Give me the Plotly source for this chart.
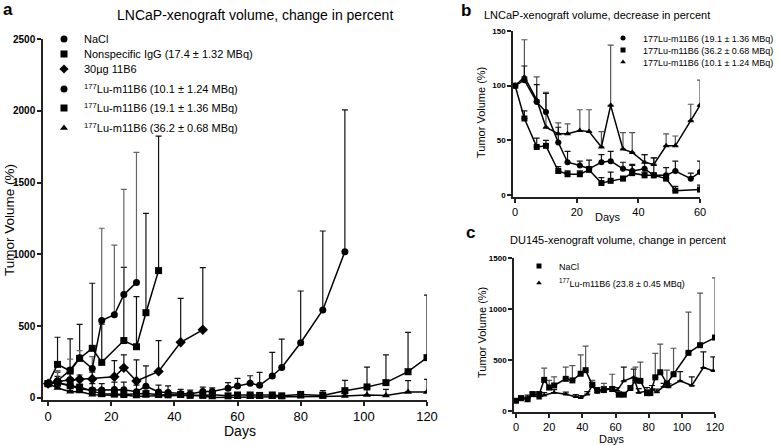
import plotly.graph_objects as go

FONT = "Liberation Sans, Arial, sans-serif"

# ---------------- Panel a: LNCaP change in percent ----------------
a_nacl_days = [0, 3, 7, 10, 14, 17, 21, 24, 28]
a_nacl = [100, 120, 195, 280, 205, 540, 580, 720, 805]
a_nacl_top = [100, 190, 270, 330, 288, 1182, 1065, 1453, 1711]

a_igg_days = [0, 3, 7, 10, 14, 17, 24, 28, 31, 35]
a_igg = [100, 234, 188, 276, 346, 248, 400, 357, 594, 887]
a_igg_top = [100, 423, 411, 513, 799, 515, 910, 706, 1286, 1824]

a_ab_days = [0, 3, 7, 10, 14, 21, 24, 28, 35, 42, 49]
a_ab = [100, 115, 125, 130, 132, 148, 210, 118, 185, 388, 475]
a_ab_top = [100, 150, 170, 160, 180, 260, 300, 265, 399, 694, 908]

a_lu10_days = [0, 3, 7, 10, 14, 17, 21, 24, 28, 31, 35, 38, 42, 45, 49, 52, 57, 60,
               64, 67, 71, 74, 80, 87, 94]
a_lu10 = [100, 108, 87, 62, 56, 56, 59, 58, 44, 82, 42, 39, 30, 28, 45, 45, 68, 84,
          102, 88, 153, 212, 385, 613, 1019]
a_lu10_top = [100, 180, 140, 120, 100, 100, 110, 110, 90, 223, 90, 85, 60, 55, 75, 70, 107, 137,
              155, 179, 318, 410, 745, 1163, 2006]

a_lu19_days = [0, 3, 7, 10, 14, 17, 21, 24, 28, 31, 35, 38, 42, 45, 49, 52, 57, 60,
               64, 67, 71, 74, 80, 87, 94, 101, 107, 114, 120]
a_lu19 = [100, 105, 85, 76, 48, 30, 27, 24, 30, 31, 24, 22, 24, 18, 18, 22, 15, 21,
          21, 18, 21, 15, 25, 18, 51, 77, 107, 183, 281]
a_lu19_top = [100, 118, 104, 93, 64, 52, 31, 32, 37, 40, 30, 28, 37, 34, 25, 31, 20, 31,
              30, 28, 30, 25, 40, 51, 123, 215, 300, 457, 717]

a_lu36_days = [0, 3, 7, 10, 14, 17, 21, 24, 28, 31, 35, 38, 42, 45, 49, 52, 60,
               64, 67, 71, 74, 80, 87, 94, 101, 107, 114, 120]
a_lu36 = [100, 70, 44, 45, 22, 19, 19, 23, 11, 13, 15, 20, 18, 18, 15, 4, 5,
          5, 5, 5, 5, 8, 10, 14, 20, 18, 42, 42]
a_lu36_top = [100, 77, 52, 50, 26, 22, 22, 26, 16, 21, 17, 23, 21, 20, 19, 8, 9,
              8, 8, 8, 8, 12, 40, 30, 70, 60, 121, 130]

a_names = ["NaCl", "Nonspecific IgG (17.4 ± 1.32 MBq)", "30µg 11B6",
           "<sup>177</sup>Lu-m11B6 (10.1 ± 1.24 MBq)",
           "<sup>177</sup>Lu-m11B6 (19.1 ± 1.36 MBq)",
           "<sup>177</sup>Lu-m11B6 (36.2 ± 0.68 MBq)"]

# ---------------- Panel b: LNCaP decrease in percent ----------------
b_days = [0, 3, 7, 10, 14, 17, 21, 24, 28, 31, 35, 38, 42, 45, 49, 52, 57, 60]
b_lu19 = [100, 105, 85, 76, 48, 30, 27, 24, 30, 31, 24, 22, 24, 18, 18, 22, 15, 21]
b_lu19_top = [100, 118, 101, 93, 62, 40, 31, 32, 37, 40, 30, 28, 37, 34, 25, 31, 20, 31]

b_lu36_days = [0, 3, 7, 10, 14, 17, 21, 24, 28, 31, 35, 38, 42, 45, 49, 52, 60]
b_lu36 = [100, 70, 44, 45, 22, 19, 19, 23, 11, 13, 15, 20, 18, 18, 15, 4, 5]
b_lu36_top = [100, 77, 52, 50, 26, 22, 22, 26, 16, 21, 17, 27, 21, 20, 19, 8, 9]

b_lu10 = [100, 108, 87, 62, 56, 56, 59, 58, 44, 82, 42, 39, 30, 28, 45, 45, 68, 82]
b_lu10_top = [100, 142, 108, 94, 66, 65, 78, 78, 58, 137, 57, 57, 37, 34, 56, 54, 83, 105]

b_names = ["177Lu-m11B6 (19.1 ± 1.36 MBq)", "177Lu-m11B6 (36.2 ± 0.68 MBq)",
           "177Lu-m11B6 (10.1 ± 1.24 MBq)"]

# ---------------- Panel c: DU145 change in percent ----------------
c_nacl_days = [0, 3, 7, 10, 14, 17, 20, 23, 30, 34, 39, 42, 46, 49, 53, 58, 62, 65, 69, 72,
               75, 79, 81, 84, 87, 91, 95, 104, 111, 120]
c_nacl = [100, 125, 115, 165, 165, 305, 230, 250, 315, 300, 365, 400, 255, 205, 205, 215, 160, 160,
          225, 300, 295, 175, 175, 330, 380, 270, 360, 570, 645, 720]
c_nacl_top = [100, 150, 135, 185, 190, 420, 300, 335, 430, 445, 550, 635, 300, 230, 270, 360, 190, 180,
              250, 430, 480, 210, 200, 565, 655, 400, 615, 970, 1155, 1305]

c_lu_days = [0, 3, 7, 10, 14, 17, 23, 30, 36, 39, 43, 46, 49, 53, 58, 61, 65, 71, 74, 79,
             82, 85, 89, 92, 99, 106, 113, 119]
c_lu = [100, 125, 130, 160, 125, 155, 180, 165, 140, 130, 165, 250, 180, 215, 220, 200, 295, 330,
        180, 195, 215, 185, 240, 235, 295, 250, 425, 395]
c_lu_top = [100, 145, 155, 185, 160, 180, 210, 185, 160, 150, 190, 280, 210, 240, 240, 230, 430, 410,
            220, 230, 250, 215, 270, 265, 385, 335, 580, 530]

c_names = ["NaCl", "<sup>177</sup>Lu-m11B6 (23.8 ± 0.45 MBq)"]

W, H = 779, 446


def px(x):
    return x / W


def py(y):
    return 1 - y / H


fig = go.Figure()


def add_series(days, vals, tops, symbol, size, xa, ya, ecolor="#111111"):
    err = [t - v for t, v in zip(tops, vals)]
    fig.add_trace(go.Scatter(
        x=days, y=vals, mode="lines+markers", xaxis=xa, yaxis=ya, showlegend=False,
        line=dict(color="black", width=1.5),
        marker=dict(symbol=symbol, size=size, color="black"),
        error_y=dict(type="data", symmetric=False, array=err, arrayminus=[0] * len(err),
                     color=ecolor, thickness=1.2, width=3),
        hoverinfo="skip"))


legends = {}
leg_count = [0]


def add_legend_item(name, symbol, size, lx, ly, fsize, xa, ya):
    leg_count[0] += 1
    key = "legend" if leg_count[0] == 1 else "legend%d" % leg_count[0]
    fig.add_trace(go.Scatter(
        x=[None], y=[None], mode="markers", name=name, legend=key, xaxis=xa, yaxis=ya,
        marker=dict(symbol=symbol, size=size, color="black"), showlegend=True))
    legends[key] = dict(x=px(lx), y=py(ly), xanchor="left", yanchor="middle",
                        bgcolor="rgba(0,0,0,0)", borderwidth=0,
                        font=dict(size=fsize, family=FONT, color="black"), itemwidth=30)


# panel a
add_series(a_lu36_days, a_lu36, a_lu36_top, "triangle-up", 7, "x", "y")
add_series(a_lu19_days, a_lu19, a_lu19_top, "square", 7, "x", "y")
add_series(a_lu10_days, a_lu10, a_lu10_top, "circle", 7, "x", "y")
add_series(a_ab_days, a_ab, a_ab_top, "diamond", 8, "x", "y")
add_series(a_igg_days, a_igg, a_igg_top, "square", 7, "x", "y")
add_series(a_nacl_days, a_nacl, a_nacl_top, "circle", 7, "x", "y", ecolor="#666666")
a_rows = [39, 54, 69, 89, 108, 128]
for nm, sym, ry in zip(a_names, ["circle", "square", "diamond", "circle", "square", "triangle-up"], a_rows):
    add_legend_item(nm, sym, 7, 44, ry, 11, "x", "y")

# panel b
add_series(b_days, b_lu10, b_lu10_top, "triangle-up", 6, "x2", "y2", ecolor="#555555")
add_series(b_lu36_days, b_lu36, b_lu36_top, "square", 6, "x2", "y2")
add_series(b_days, b_lu19, b_lu19_top, "circle", 6, "x2", "y2")
b_rows = [38, 50, 62]
for nm, sym, ry in zip(b_names, ["circle", "square", "triangle-up"], b_rows):
    add_legend_item(nm, sym, 5, 603, ry, 9, "x2", "y2")

# panel c
add_series(c_lu_days, c_lu, c_lu_top, "triangle-up", 5, "x3", "y3")
add_series(c_nacl_days, c_nacl, c_nacl_top, "square", 6, "x3", "y3", ecolor="#555555")
c_rows = [266, 283]
for nm, sym, ry in zip(c_names, ["square", "triangle-up"], c_rows):
    add_legend_item(nm, sym, 5, 519, ry, 9, "x3", "y3")

axis_common = dict(showline=True, linecolor="#222222", linewidth=1.5, ticks="outside",
                   ticklen=4, tickwidth=1.5, tickcolor="#222222", showgrid=False, zeroline=False,
                   automargin=False)

fig.update_layout(
    width=W, height=H, margin=dict(l=0, r=0, t=0, b=0, autoexpand=False),
    paper_bgcolor="white", plot_bgcolor="white",
    font=dict(family=FONT, color="black"),
    xaxis=dict(domain=[px(43), px(427)], range=[-1.6, 120], tickvals=[0, 20, 40, 60, 80, 100, 120],
               tickfont=dict(size=13, family=FONT), anchor="y", **axis_common),
    yaxis=dict(domain=[py(400), py(39)], range=[-14, 2500], tickvals=[0, 500, 1000, 1500, 2000, 2500],
               tickfont=dict(size=10, family=FONT, weight="bold"), anchor="x",
               **axis_common),
    xaxis2=dict(domain=[px(513), px(700)], range=[-0.7, 60], tickvals=[0, 20, 40, 60],
                tickfont=dict(size=11, family=FONT), anchor="y2", **axis_common),
    yaxis2=dict(domain=[py(197), py(31)], range=[-1.8, 150], tickvals=[0, 50, 100, 150],
                tickfont=dict(size=8, family=FONT, weight="bold"), anchor="x2", **axis_common),
    xaxis3=dict(domain=[px(514), px(715)], range=[-1.2, 120], tickvals=[0, 20, 40, 60, 80, 100, 120],
                tickfont=dict(size=11, family=FONT), anchor="y3", **axis_common),
    yaxis3=dict(domain=[py(412), py(258)], range=[-10, 1500], tickvals=[0, 500, 1000, 1500],
                tickfont=dict(size=8, family=FONT, weight="bold"), anchor="x3", **axis_common),
    **legends,
)

ann = []


def text(x, y, s, size, angle=0, bold=False, xanchor="center"):
    ann.append(dict(x=px(x), y=py(y), xref="paper", yref="paper", text=s, showarrow=False,
                    textangle=angle, xanchor=xanchor, yanchor="middle",
                    font=dict(size=size, family=FONT, color="black",
                              weight="bold" if bold else "normal")))


text(8, 10, "a", 17, bold=True)
text(255, 15, "LNCaP-xenograft volume, change in percent", 14)
text(9, 220, "Tumor Volume (%)", 13.5, angle=-90)
text(240, 431, "Days", 14)

text(466, 11, "b", 17, bold=True)
text(597, 15, "LNCaP-xenograft volume, decrease in percent", 11)
text(481, 113, "Tumor Volume (%)", 11, angle=-90)
text(608, 217, "Days", 11)

text(470, 233, "c", 17, bold=True)
text(618, 240, "DU145-xenograft volume, change in percent", 11)
text(482, 333, "Tumor Volume (%)", 11, angle=-90)
text(612, 439, "Days", 11)

fig.update_layout(annotations=ann)

fig.write_html("out.html", config={"displayModeBar": False},
               post_script="document.body.style.margin='0';document.body.style.padding='0';")
